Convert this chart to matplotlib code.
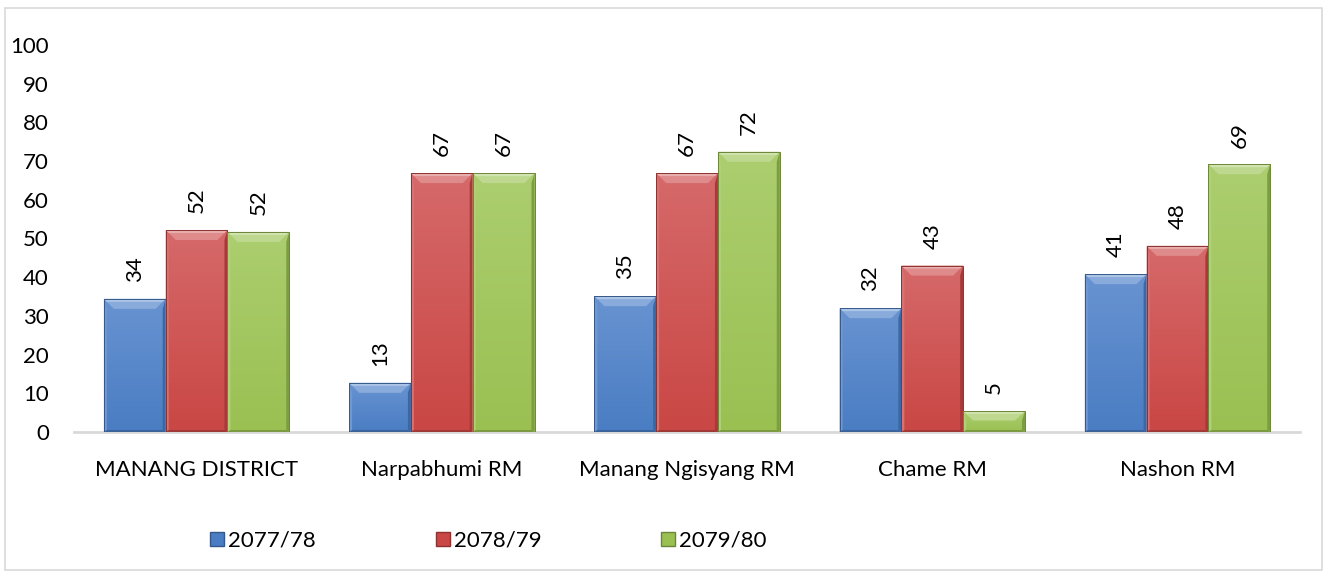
import numpy as np
import matplotlib
matplotlib.use("Agg")
import matplotlib.pyplot as plt
from matplotlib.colors import to_rgb
from matplotlib.patches import Polygon, Rectangle
from matplotlib.lines import Line2D

plt.rcParams['font.family'] = ['Lato', 'DejaVu Sans']

categories = ["MANANG DISTRICT", "Narpabhumi RM", "Manang Ngisyang RM", "Chame RM", "Nashon RM"]
series_names = ["2077/78", "2078/79", "2079/80"]
values_2077 = [34.4, 12.7, 35.1, 32.0, 40.8]
values_2078 = [52.2, 66.9, 66.9, 43.0, 48.1]
values_2079 = [51.7, 66.9, 72.4, 5.4, 69.2]
colors_top = ["#6893D1", "#D6696A", "#ACCE6F"]
colors_bot = ["#4A7DC3", "#C94744", "#9AC052"]
yticks = [0, 10, 20, 30, 40, 50, 60, 70, 80, 90, 100]

W, H, DPI = 13.28, 5.74, 100
fig = plt.figure(figsize=(W, H), dpi=DPI)
ax = fig.add_axes([0.0557, 0.2474, 0.9233, 0.6742])

x = np.arange(len(categories))
bw = 0.252
ax.set_xlim(-0.5, len(categories) - 0.5)
ax.set_ylim(0, 100)

# data units per pixel, used to size the bevel
ax_w_px = 0.9233 * W * DPI
ax_h_px = 0.6742 * H * DPI
dx = len(categories) / ax_w_px
dy = 100 / ax_h_px


def mix(c, t, amount):
    c = np.array(to_rgb(c))
    t = np.array(to_rgb(t))
    return tuple(c + (t - c) * amount)


def bevel_bar(x0, w, h, ctop, cbot):
    # soft vertical gradient, lighter toward the top
    n = 64
    t = np.linspace(0, 1, n).reshape(-1, 1, 1)
    top = np.array(to_rgb(ctop))
    bot = np.array(to_rgb(cbot))
    img = top + (bot - top) * t
    img = np.repeat(img, 4, axis=1)
    rect = Rectangle((x0, 0), w, h, facecolor="none", edgecolor="none")
    ax.add_patch(rect)
    im = ax.imshow(img, extent=(x0, x0 + w, 0, h), origin="upper", aspect="auto",
                   interpolation="bilinear", zorder=2)
    im.set_clip_path(rect)
    bx = 10 * dx
    by = min(10 * dy, h * 0.45)
    sx = 3 * dx
    sy = min(2 * dy, h * 0.1)
    # top bevel: bright rim plus a lighter slanted face
    ax.add_patch(Polygon([(x0, h), (x0 + w, h), (x0 + w - bx, h - by), (x0 + bx, h - by)],
                         closed=True, facecolor=mix(ctop, "white", 0.22),
                         edgecolor="none", zorder=3))
    ax.add_patch(Polygon([(x0, h), (x0 + w, h), (x0 + w - bx * 0.3, h - by * 0.3),
                          (x0 + bx * 0.3, h - by * 0.3)],
                         closed=True, facecolor=mix(ctop, "white", 0.45),
                         edgecolor="none", zorder=3))
    # side bevels
    ax.add_patch(Polygon([(x0, h), (x0 + sx, h - by), (x0 + sx, sy), (x0, 0)],
                         closed=True, facecolor=mix(ctop, "white", 0.05),
                         edgecolor="none", zorder=3))
    ax.add_patch(Polygon([(x0 + w, h), (x0 + w - sx, h - by), (x0 + w - sx, sy), (x0 + w, 0)],
                         closed=True, facecolor=mix(cbot, "black", 0.18),
                         edgecolor="none", zorder=3))
    ax.add_patch(Polygon([(x0, 0), (x0 + w, 0), (x0 + w - sx, sy), (x0 + sx, sy)],
                         closed=True, facecolor=mix(cbot, "black", 0.2),
                         edgecolor="none", zorder=3))
    ax.add_patch(Rectangle((x0, 0), w, h, facecolor="none",
                           edgecolor=mix(cbot, "black", 0.3), linewidth=0.7, zorder=4))


all_series = [values_2077, values_2078, values_2079]
for i, vals in enumerate(all_series):
    offs = (i - 1) * bw
    bars = ax.bar(x + offs, vals, width=bw, color="none", edgecolor="none")
    for b, v in zip(bars, vals):
        bevel_bar(b.get_x(), b.get_width(), v, colors_top[i], colors_bot[i])
        ax.annotate(f"{v:.0f}", (b.get_x() + b.get_width() / 2, v),
                    xytext=(0, 12), textcoords="offset points",
                    rotation=90, ha="center", va="bottom", fontsize=16, color="#000000")

ax.set_xticks(x)
ax.set_xticklabels(categories, fontsize=16)
ax.set_yticks(yticks)
ax.set_yticklabels([str(t) for t in yticks], fontsize=16)
ax.tick_params(axis="both", length=0)
ax.tick_params(axis="x", pad=20)
ax.tick_params(axis="y", pad=18)
for s in ["top", "right", "left"]:
    ax.spines[s].set_visible(False)
ax.spines["bottom"].set_color("#D9D9D9")
ax.spines["bottom"].set_linewidth(2)
ax.spines["bottom"].set_zorder(1)

handles = [Line2D([], [], marker="s", linestyle="none", markersize=10,
                  markerfacecolor=c, markeredgecolor=mix(c, "black", 0.3))
           for c in colors_bot]
fig.legend(handles, series_names, loc="center", bbox_to_anchor=(0.3675, 0.0575),
           ncol=3, frameon=False, fontsize=16, handlelength=0.7,
           handletextpad=0.15, columnspacing=5.35)

fig.patches.append(Rectangle((5 / 1328, 4 / 574), 1317 / 1328, 562 / 574,
                             transform=fig.transFigure, facecolor="none",
                             edgecolor="#D9D9D9", linewidth=1.2))

fig.savefig("out.png", dpi=DPI, facecolor="white")
